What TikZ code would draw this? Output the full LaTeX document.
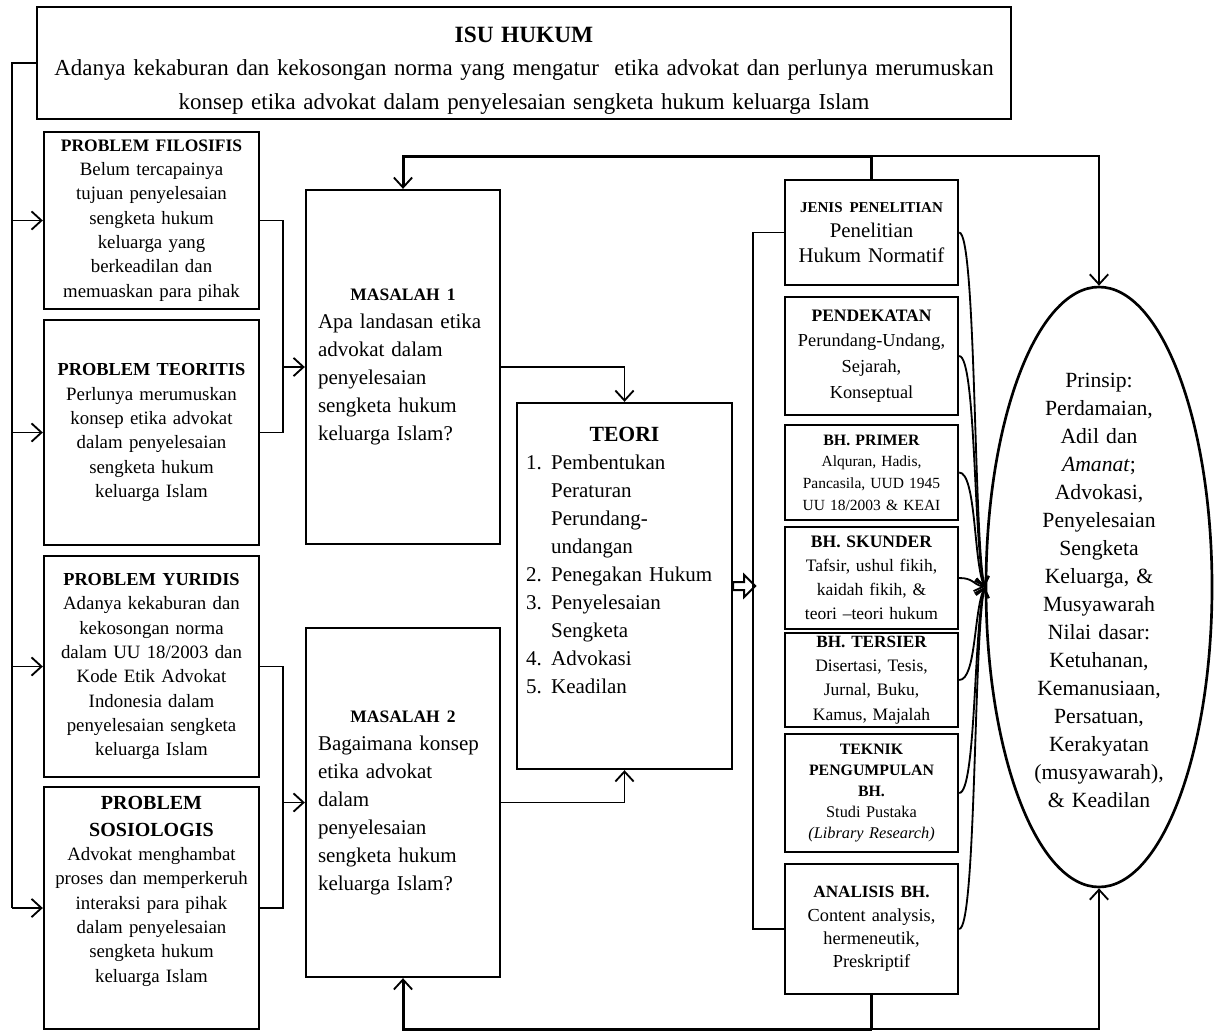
\documentclass[tikz,border=0pt]{standalone}
\usepackage{fontspec}
\setmainfont{Liberation Serif}
\usetikzlibrary{arrows.meta,shapes.geometric}
\begin{document}
\begin{tikzpicture}[x=0.6pt,y=-0.6pt,
  box/.style={draw, line width=1.4pt, inner sep=0pt, align=center},
  span/.style n args={4}{at={({(#1+#3)/2},{(#2+#4)/2})}, minimum width={(#3-#1)*0.6pt}, minimum height={(#4-#2)*0.6pt}},
  tip/.style={-{Straight Barb[length=6pt,width=11pt,line width=1.1pt]}},
  arr/.style={line width=1pt, tip},
  ln/.style={line width=1pt},
  bus/.style={line width=1.8pt},
  curve/.style={line width=1.1pt, -{Straight Barb[length=5pt,width=8pt,line width=1.1pt]}},
  pbody/.style={font=\fontsize{11.3}{14.6}\selectfont, text width=125pt},
  rbody/.style={text width=100pt},
  lbox/.style={align=left, text width=102pt, font=\fontsize{12.6}{16.8}\selectfont},
]
\useasboundingbox (0,0) rectangle (1219,1033);

% helper coordinates
\coordinate (lx) at (12,0);
\coordinate (rx) at (283,0);
\coordinate (bx) at (753,0);
\coordinate (ty) at (0,156);
\coordinate (by) at (0,1029);

% top box
\node[box, span={37}{7}{1011}{119}, text width=580pt, font=\fontsize{13.75}{20}\selectfont] (isu)
 {{\fontsize{14}{20}\selectfont\bfseries\rule{0pt}{18.5pt}ISU HUKUM\par}
  \mbox{Adanya kekaburan dan kekosongan norma yang mengatur \ etika advokat dan perlunya merumuskan}\\
  \mbox{konsep etika advokat dalam penyelesaian sengketa hukum keluarga Islam}};

% problem boxes
\node[box, pbody, span={44}{132}{259}{309}] (pf)
 {{\fontsize{10.5}{13}\selectfont\bfseries PROBLEM FILOSIFIS\par}
  Belum tercapainya\\ tujuan penyelesaian\\ sengketa hukum\\ keluarga yang\\ berkeadilan dan\\ memuaskan para pihak};
\node[box, pbody, span={44}{320}{259}{545}] (pt)
 {{\fontsize{11}{16}\selectfont\bfseries PROBLEM TEORITIS\par}
  Perlunya merumuskan\\ konsep etika advokat\\ dalam penyelesaian\\ sengketa hukum\\ keluarga Islam};
\node[box, pbody, span={44}{556}{259}{777}] (py)
 {{\fontsize{11}{16}\selectfont\bfseries PROBLEM YURIDIS\par}
  Adanya kekaburan dan\\ kekosongan norma\\ dalam UU 18/2003 dan\\ Kode Etik Advokat\\ Indonesia dalam\\ penyelesaian sengketa\\ keluarga Islam};
\node[box, pbody, span={44}{787}{259}{1029}] (ps)
 {{\fontsize{12}{16}\selectfont\bfseries PROBLEM\\ SOSIOLOGIS\par}
  Advokat menghambat\\ proses dan memperkeruh\\ interaksi para pihak\\ dalam penyelesaian\\ sengketa hukum\\ keluarga Islam\\[8pt]\mbox{}};

% masalah boxes
\node[box, lbox, span={306}{190}{500}{544}] (m1)
 {\makebox[102pt]{\fontsize{10.5}{13}\selectfont\bfseries MASALAH 1}\\
  Apa~landasan~etika\\ advokat~dalam\\ penyelesaian\\ sengketa~hukum\\ keluarga~Islam?};
\node[box, lbox, span={306}{628}{500}{977}] (m2)
 {\makebox[102pt]{\fontsize{10.5}{13}\selectfont\bfseries MASALAH 2}\\
  Bagaimana~konsep\\ etika~advokat\\ dalam\\ penyelesaian\\ sengketa~hukum\\ keluarga~Islam?};

% teori
\node[box, align=left, text width=118pt, font=\fontsize{12.6}{16.8}\selectfont, span={517}{403}{732}{769}] (teori)
 {\makebox[118pt]{\fontsize{13}{16}\selectfont\bfseries TEORI}\\
  \makebox[15pt][l]{1.}Pembentukan\\
  \hspace*{15pt}Peraturan\\
  \hspace*{15pt}Perundang-\\
  \hspace*{15pt}undangan\\
  \makebox[15pt][l]{2.}Penegakan~Hukum\\
  \makebox[15pt][l]{3.}Penyelesaian\\
  \hspace*{15pt}Sengketa\\
  \makebox[15pt][l]{4.}Advokasi\\
  \makebox[15pt][l]{5.}Keadilan\\[14pt]\mbox{}};

% right column
\node[box, rbody, font=\fontsize{12.5}{15}\selectfont, span={785}{180}{958}{285}] (jenis)
 {{\fontsize{9}{13}\selectfont\bfseries JENIS PENELITIAN\par}
  Penelitian\\ Hukum Normatif};
\node[box, rbody, font=\fontsize{11}{15.5}\selectfont, span={785}{297}{958}{415}] (pend)
 {{\fontsize{10.5}{14}\selectfont\bfseries PENDEKATAN\par}
  Perundang-Undang,\\ Sejarah,\\ Konseptual};
\node[box, rbody, font=\fontsize{9.3}{13}\selectfont, span={785}{425}{958}{520}] (prim)
 {{\fontsize{9.5}{13}\selectfont\bfseries BH. PRIMER\par}
  Alquran, Hadis,\\ Pancasila, UUD 1945\\ UU 18/2003 \& KEAI};
\node[box, rbody, font=\fontsize{10.5}{14.5}\selectfont, span={785}{527}{958}{629}] (sk)
 {{\fontsize{10.5}{14}\selectfont\bfseries BH. SKUNDER\par}
  Tafsir, ushul fikih,\\ kaidah fikih, \&\\ teori \textendash teori hukum};
\node[box, rbody, font=\fontsize{10.5}{14.5}\selectfont, span={785}{633}{958}{727}] (ter)
 {{\fontsize{10.3}{13}\selectfont\bfseries BH. TERSIER\par}
  Disertasi, Tesis,\\ Jurnal, Buku,\\ Kamus, Majalah};
\node[box, rbody, font=\fontsize{9.8}{12.6}\selectfont, span={785}{734}{958}{852}] (tek)
 {{\fontsize{9.5}{12.6}\selectfont\bfseries TEKNIK\\ PENGUMPULAN\\ BH.\par}
  Studi Pustaka\\ \textit{(Library Research)}};
\node[box, rbody, font=\fontsize{11}{14}\selectfont, span={785}{864}{958}{994}] (an)
 {{\fontsize{10.3}{14}\selectfont\bfseries ANALISIS BH.\par}
  Content analysis,\\ hermeneutik,\\ Preskriptif};

% ellipse
\node[draw, ellipse, line width=1.6pt, inner sep=0pt, minimum width=135.6pt, minimum height=360pt] (el) at (1099,587) {};
\node[align=center, text width=86pt, font=\fontsize{13}{16.8}\selectfont] (elt) at (1099,590)
 {Prinsip:\\ Perdamaian,\\ Adil dan\\ \textit{Amanat};\\ Advokasi,\\ Penyelesaian\\ Sengketa\\ Keluarga, \&\\ Musyawarah\\ Nilai dasar:\\ Ketuhanan,\\ Kemanusiaan,\\ Persatuan,\\ Kerakyatan\\ (musyawarah),\\ \& Keadilan};

% left feed line
\draw[ln] (isu.west) -- (isu.west -| lx) -- (ps.west -| lx);
\foreach \n in {pf,pt,py,ps} \draw[arr] (\n.west -| lx) -- (\n.west);

% problem -> masalah
\draw[ln] (pf.east) -- (pf.east -| rx) -- (pt.east -| rx) -- (pt.east);
\draw[arr] (m1.west -| rx) -- (m1.west);
\draw[ln] (py.east) -- (py.east -| rx) -- (ps.east -| rx) -- (ps.east);
\draw[arr] (m2.west -| rx) -- (m2.west);

% masalah -> teori
\draw[arr] (m1.east) -| (teori.north);
\draw[arr] (m2.east) -| (teori.south);

% teori -> methods (hollow block arrow)
\draw[line width=1.2pt, line join=miter, fill=white] (teori.east) ++(0,-4) -- ++(11,0) -- ++(0,-7) -- ++(11,11) -- ++(-11,11) -- ++(0,-7) -- ++(-11,0) -- cycle;
\draw[ln] (jenis.west) -- (jenis.west -| bx) -- (an.west -| bx) -- (an.west);

% top bus
\draw[bus] (jenis.north) -- (jenis.north |- ty);
\draw[bus, tip] (jenis.north |- ty) -| (m1.north);
\draw[line width=1.2pt, tip] (jenis.north |- ty) -| (el.north);
% bottom bus
\draw[bus] (an.south) -- (an.south |- by);
\draw[bus, tip] (an.south |- by) -| (m2.south);
\draw[line width=1.2pt, tip] (an.south |- by) -| (el.south);

% curves into ellipse
\draw[curve] (jenis.east) .. controls +(17,0) and +(-11,-50) .. (el.west);
\draw[curve] (pend.east) .. controls +(17,0) and +(-11,-40) .. (el.west);
\draw[curve] (prim.east) .. controls +(17,0) and +(-11,-25) .. (el.west);
\draw[curve] (sk.east) .. controls +(14,0) and +(-12,-3) .. (el.west);
\draw[curve] (ter.east) .. controls +(17,0) and +(-11,25) .. (el.west);
\draw[curve] (tek.east) .. controls +(17,0) and +(-11,40) .. (el.west);
\draw[curve] (an.east) .. controls +(17,0) and +(-11,50) .. (el.west);
\end{tikzpicture}
\end{document}
